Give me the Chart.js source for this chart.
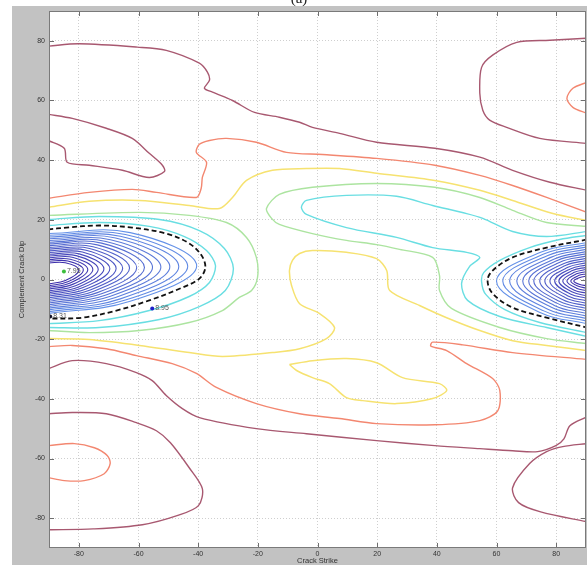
<!DOCTYPE html>
<html><head><meta charset="utf-8">
<script src="https://cdn.jsdelivr.net/npm/chart.js@4.4.1/dist/chart.umd.min.js"></script>
<style>html,body{margin:0;padding:0;background:#fff}canvas{display:block}</style>
</head><body>
<canvas id="c" width="587" height="565"></canvas>
<script>
// ---------- tick labels / titles ----------
const xTicks = [-80,-60,-40,-20,0,20,40,60,80];
const yTicks = [-80,-60,-40,-20,0,20,40,60,80];
const xTitle = 'Crack Strike';
const yTitle = 'Complement Crack Dip';
const chartTitle = '(a)';

// ---------- contour lines (strike, dip) ----------
// outermost level (maroon)
const maroon1 = [[-90.3,78.2],[-80,79],[-60.4,77.9],[-50.7,76.8],[-39.6,72.5],[-36.9,69.5],[-36.2,66.8],[-37.9,64.1],[-35.2,62.8],[-28.5,60],[-21.1,56],[-12.8,54.4],[-6,52.7],[-1.7,51],[7.4,49],[19.8,46],[39.3,44],[54.4,41],[65.4,36.6],[77.9,32.6],[90.3,29.9]];
const maroon2 = [[90.3,80.9],[77.9,80.2],[66.8,79.5],[58.7,75.2],[55,71.1],[54.4,62.4],[55.4,56.7],[57.7,53.4],[63.4,51],[74.5,47.3],[90.3,45.6]];
const maroon3 = [[-90.3,55.4],[-82.2,54],[-70.8,50.7],[-62.1,47.3],[-56.4,42.3],[-52,38.3],[-51.3,36.2],[-56.4,34.2],[-65.4,36.6],[-76.5,38.3],[-83.9,39.3],[-84.9,44],[-90.3,46.6]];
const maroon4 = [[-90.3,-29.9],[-82.2,-27.2],[-70.8,-28.2],[-60.7,-31.2],[-55.4,-33.9],[-50.7,-38.9],[-45.3,-43.3],[-39.6,-46.3],[-20.5,-50],[-3.7,-51.7],[19.8,-54],[39.3,-55.7],[54.4,-56.7],[65.4,-57.4],[73.8,-57.7],[79.9,-55.7],[82.6,-53.4],[84.6,-49],[90.3,-46]];
const maroon5 = [[-90.3,-45],[-82.2,-44.6],[-70.8,-45],[-60.7,-48],[-54,-50.7],[-49.3,-54.7],[-43,-63.1],[-38.6,-70.1],[-39.9,-75.8],[-46.3,-78.9],[-58.7,-82.2],[-75.2,-83.6],[-90.3,-83.9]];
const maroon6 = [[90.3,-55],[82.2,-56],[76.8,-57.7],[71.1,-61.7],[65.4,-69.8],[67.4,-74.8],[74.8,-77.9],[90.3,-81.2]];
// orange level
const orange1 = [[-90.3,27.2],[-76.5,29.2],[-62.1,30.2],[-54,29.2],[-40.6,27.5],[-39,30.5],[-38.6,34.2],[-37.2,39.3],[-40.6,42.6],[-39.6,45.3],[-36.2,46.6],[-30.5,47.3],[-20.5,46],[-10.4,42.6],[1.7,41.9],[19.8,40.6],[39.3,38.3],[54.4,34.9],[65.4,31.5],[76.8,27.5],[90.3,22.5]];
const orange2 = [[90.3,66.1],[85.6,64.1],[83.6,60.7],[85.6,57.7],[90.3,55.7]];
const orange3 = [[-90.3,-22.5],[-82.2,-22.1],[-70.8,-23.2],[-60.7,-25.5],[-48.7,-28.2],[-40.6,-31.5],[-33.9,-36.2],[-20.5,-41.6],[-6,-45],[7.4,-46.6],[19.8,-48.3],[39.3,-48.7],[54.4,-47.3],[60.4,-44],[61.1,-37.2],[58.7,-33.2],[50,-28.2],[43.3,-23.8],[38,-22.3],[38.6,-21],[48.7,-21.9],[65.4,-24.5],[90.3,-26.8]];
const orange4 = [[-90.3,-55.7],[-81.5,-55],[-74.8,-56.4],[-70.5,-59],[-69.5,-61.7],[-71.5,-65.1],[-78.2,-67.4],[-84.9,-67.4],[-90.3,-66.4]];
// yellow level
const yellow1 = [[-90.3,24.2],[-76.5,26.2],[-59.7,26.5],[-43,24.8],[-32.9,23.8],[-28.5,27.5],[-23.8,33.2],[-15.1,36.6],[-3.7,37.2],[7.4,37.2],[19.8,35.6],[39.3,33.2],[54.4,29.9],[65.4,26.5],[78.9,22.1],[90.3,19.8]];
const yellow2 = [[-90.3,-19.8],[-76.5,-20.1],[-59.7,-22.1],[-43,-24.5],[-31.9,-25.8],[-15.1,-24.5],[-6,-23.2],[3,-19.8],[5.7,-16.1],[0.7,-11.4],[-6,-8.1],[-8.7,-2],[-9.4,3],[-8.4,6.4],[-6,8.7],[-1.7,9.7],[9.7,9.1],[19.8,7],[23.2,3],[24.2,-3.7],[34.2,-8.7],[43.3,-12.8],[54.4,-17.1],[65.4,-20.5],[76.8,-22.1],[90.3,-23.8]];
const yellow3 = [[-9.4,-28.5],[-1.7,-27.2],[9.7,-26.5],[19.8,-27.9],[28.5,-32.9],[40.9,-34.9],[43.3,-37.2],[38.6,-39.9],[26.5,-41.6],[15.1,-40.6],[9.7,-39.6],[4,-34.9],[-1.7,-32.9],[-7,-30.5],[-9.4,-28.5]];
// green level
const green1 = [[-90.3,21.5],[-59.7,22.5],[-43,21.5],[-30.5,19.1],[-23.8,14.1],[-20.5,7.4],[-20.1,0.7],[-22.1,-3.7],[-26.2,-6],[-31.9,-10.4],[-43,-14.4],[-59.7,-17.1],[-76.5,-17.8],[-90.3,-17.1]];
const green2 = [[90.3,17.8],[76.8,19.1],[65.4,23.2],[54.4,27.5],[39.3,30.9],[19.8,32.2],[-1.7,30.9],[-12.8,28.5],[-17.1,23.8],[-15.4,20.5],[-12.8,18.5],[-1.7,15.4],[9.7,13.1],[19.8,11.7],[27.5,10.1],[38.6,7.4],[40.9,1.3],[40.9,-3.7],[44.9,-9.7],[61.1,-16.1],[76.8,-19.8],[90.3,-21.5]];
// cyan level(s)
const cyanLeftOuter = [[-90.3,20.1],[-73.2,21.1],[-53,20.1],[-39.6,16.4],[-31.2,10.4],[-28.2,3.7],[-30.9,-3.7],[-39.6,-9.1],[-53,-13.4],[-73.2,-16.1],[-90.3,-16.1]];
const cyanLeftInner = [[-90.3,18.1],[-73.2,19.1],[-56.4,17.8],[-44.6,14.4],[-37.2,9.7],[-34.2,4.7],[-36.2,-1],[-43,-5.7],[-56.4,-10.4],[-73.2,-13.8],[-90.3,-14.8]];
const cyanMiddle = [[90.3,16.1],[76.8,14.4],[65.4,16.1],[55.4,20.5],[50,22.1],[38.6,24.8],[26.5,27.9],[9.7,28.2],[-3.7,26.5],[-5.4,24.2],[-3.7,21.8],[9.7,17.4],[26.5,14.1],[38.6,10.7],[50,9.1],[54.4,7.4],[51,4.4],[48.3,-1.3],[50.3,-7],[61.1,-12.4],[76.8,-16.1],[90.3,-19.1]];
const cyanRightInner = [[90.3,14.8],[81.2,13.4],[71.1,10.7],[61.1,6.4],[55.7,2.3],[55,-0.7],[56.4,-5],[62.8,-10.1],[74.5,-14.4],[90.3,-17.8]];
// highlighted (dashed black) level
const dashedLeft = [[-90.3,16.8],[-84.2,17.4],[-73.2,18.1],[-62.1,17.4],[-50.7,15.4],[-43,12.1],[-38.9,8.1],[-37.6,4],[-39.6,0.3],[-45.3,-2.7],[-56.4,-7],[-67.4,-10.4],[-78.9,-12.8],[-90.3,-13.1]];
const dashedRight = [[90.3,13.4],[76.8,10.7],[65.4,7.4],[58.7,3],[57,-0.3],[58.7,-4.7],[65.4,-9.4],[76.8,-12.8],[90.3,-16.1]];
// blue levels, outer to inner
const blueLeft = [
 [[-90.3,15.4],[-62.8,15.7],[-40.5,4.5],[-62.8,-7.3],[-90.3,-11.4]],
 [[-90.3,14.82],[-64.4,15.1],[-43.5,4.42],[-64.4,-6.9],[-90.3,-10.82]],
 [[-90.3,14.24],[-66.1,14.5],[-46.5,4.34],[-66.1,-6.5],[-90.3,-10.24]],
 [[-90.3,13.66],[-67.7,13.9],[-49.5,4.26],[-67.7,-6.0],[-90.3,-9.66]],
 [[-90.3,13.08],[-69.4,13.3],[-52.5,4.18],[-69.4,-5.6],[-90.3,-9.08]],
 [[-90.3,12.5],[-70.9,12.75],[-55.3,4.1],[-70.9,-5.2],[-90.3,-8.5]],
 [[-90.3,11.92],[-72.4,12.2],[-58,4.02],[-72.4,-4.8],[-90.3,-7.92]],
 [[-90.3,11.34],[-73.8,11.6],[-60.6,3.94],[-73.8,-4.4],[-90.3,-7.34]],
 [[-90.3,10.76],[-75.2,10.97],[-63,3.86],[-75.2,-4.0],[-90.3,-6.76]],
 [[-90.3,10.18],[-76.4,10.4],[-65.3,3.78],[-76.4,-3.6],[-90.3,-6.18]],
 [[-90.3,9.6],[-77.6,9.8],[-67.5,3.7],[-77.6,-3.2],[-90.3,-5.6]],
 [[-90.3,9.02],[-78.8,9.2],[-69.6,3.62],[-78.8,-2.8],[-90.3,-5.02]],
 [[-90.3,8.44],[-79.9,8.6],[-71.6,3.54],[-79.9,-2.4],[-90.3,-4.44]],
 [[-90.3,7.86],[-80.9,8.0],[-73.5,3.46],[-80.9,-2.0],[-90.3,-3.86]],
 [[-90.3,7.28],[-81.9,7.4],[-75.3,3.38],[-81.9,-1.55],[-90.3,-3.28]],
 [[-90.3,6.7],[-82.9,6.8],[-77,3.3],[-82.9,-1.15],[-90.3,-2.7]],
 [[-90.3,6.12],[-83.7,6.2],[-78.5,3.22],[-83.7,-0.75],[-90.3,-2.12]],
 [[-90.3,5.54],[-84.5,5.6],[-80,3.14],[-84.5,-0.3],[-90.3,-1.54]]
];
const blueRight = [
 [[90.3,12.4],[75,9.2],[60,-0.5],[75,-11.2],[90.3,-14.8]],
 [[90.3,11.65],[76.05,8.6],[62.1,-0.5],[76.05,-10.6],[90.3,-13.95]],
 [[90.3,10.9],[77.2,8.05],[64.4,-0.5],[77.2,-9.95],[90.3,-13.1]],
 [[90.3,10.15],[78.4,7.5],[66.8,-0.5],[78.4,-9.3],[90.3,-12.25]],
 [[90.3,9.4],[79.4,6.9],[68.8,-0.5],[79.4,-8.7],[90.3,-11.4]],
 [[90.3,8.65],[80.4,6.4],[70.8,-0.5],[80.4,-8.0],[90.3,-10.55]],
 [[90.3,7.9],[81.25,5.8],[72.5,-0.5],[81.25,-7.4],[90.3,-9.7]],
 [[90.3,7.15],[82.25,5.2],[74.5,-0.5],[82.25,-6.8],[90.3,-8.85]],
 [[90.3,6.4],[83.1,4.7],[76.2,-0.5],[83.1,-6.1],[90.3,-8.0]],
 [[90.3,5.65],[83.95,4.1],[77.9,-0.5],[83.95,-5.5],[90.3,-7.15]],
 [[90.3,4.9],[84.75,3.55],[79.5,-0.5],[84.75,-4.85],[90.3,-6.3]],
 [[90.3,4.15],[85.45,3.0],[80.9,-0.5],[85.45,-4.2],[90.3,-5.45]],
 [[90.3,3.4],[86.1,2.4],[82.2,-0.5],[86.1,-3.6],[90.3,-4.6]],
 [[90.3,2.65],[86.8,1.9],[83.6,-0.5],[86.8,-2.9],[90.3,-3.75]],
 [[90.3,1.9],[87.45,1.3],[84.9,-0.5],[87.45,-2.3],[90.3,-2.9]],
 [[90.3,1.15],[87.95,0.7],[85.9,-0.5],[87.95,-1.7],[90.3,-2.05]]
];
// marked points and their labels
const markX = [-85, -55.4, -89.6];
const markY = [2.7, -9.7, -12.4];
const markText = ['7.95', '8.95', '8.31'];

// ---------- styles ----------
const COL = {
  maroon: 'rgb(168,88,112)', orange: 'rgb(243,135,112)', yellow: 'rgb(246,226,112)',
  green: 'rgb(172,228,160)', cyan: 'rgb(105,222,226)'
};
const markColors = ['rgb(60,190,60)', 'rgb(30,30,200)', 'rgb(20,20,40)'];

function pts(a){ return a.map(p => ({x:p[0], y:p[1]})); }
function line(a, color, w, extra){
  return Object.assign({data: pts(a), showLine: true, borderColor: color, borderWidth: w,
    pointRadius: 0, pointHoverRadius: 0, tension: 0.3, fill: false}, extra || {});
}
function blueCol(t){
  const r = Math.round(100 - 40*t), g = Math.round(145 - 100*t), b = Math.round(232 - 62*t);
  return `rgb(${r},${g},${b})`;
}

const datasets = [];
datasets.push({data: markX.map((x,i)=>({x, y: markY[i]})), showLine:false, pointRadius: 2,
  pointBackgroundColor: markColors, pointBorderColor: markColors, pointBorderWidth: 0});
datasets.push(line(dashedLeft, '#111', 1.8, {borderDash:[5,3], tension:0.35}));
datasets.push(line(dashedRight, '#111', 1.8, {borderDash:[5,3], tension:0.35}));
blueLeft.forEach((c,i)=>datasets.push(line(c, blueCol(i/(blueLeft.length-1)), 1.1, {tension:0.4})));
blueRight.forEach((c,i)=>datasets.push(line(c, blueCol(i/(blueRight.length-1)), 1.1, {tension:0.4})));
[cyanLeftOuter, cyanLeftInner, cyanMiddle, cyanRightInner].forEach(c=>datasets.push(line(c, COL.cyan, 1.4)));
[green1, green2].forEach(c=>datasets.push(line(c, COL.green, 1.4)));
[yellow1, yellow2, yellow3].forEach(c=>datasets.push(line(c, COL.yellow, 1.5)));
[orange1, orange2, orange3, orange4].forEach(c=>datasets.push(line(c, COL.orange, 1.4)));
[maroon1, maroon2, maroon3, maroon4, maroon5, maroon6].forEach(c=>datasets.push(line(c, COL.maroon, 1.4)));

const FONT = '"Liberation Sans", Arial, sans-serif';

const framePlugin = {
  id: 'frame',
  beforeDraw(chart){
    const {ctx, chartArea:a, width, height} = chart;
    ctx.save();
    ctx.fillStyle = '#ffffff'; ctx.fillRect(0,0,width,height);
    ctx.fillStyle = '#c2c2c2'; ctx.fillRect(12,6,width-12,height-6);
    ctx.fillStyle = '#ffffff'; ctx.fillRect(a.left,a.top,a.right-a.left,a.bottom-a.top);
    ctx.restore();
  },
  afterDraw(chart){
    const {ctx, chartArea:a} = chart;
    const xs = chart.scales.x, ys = chart.scales.y;
    ctx.save();
    ctx.strokeStyle = '#6e6e6e'; ctx.lineWidth = 1;
    ctx.beginPath();
    xTicks.forEach(v=>{ const p = Math.round(xs.getPixelForValue(v))+0.5;
      ctx.moveTo(p,a.bottom); ctx.lineTo(p,a.bottom-5); ctx.moveTo(p,a.top); ctx.lineTo(p,a.top+5); });
    yTicks.forEach(v=>{ const p = Math.round(ys.getPixelForValue(v))+0.5;
      ctx.moveTo(a.left,p); ctx.lineTo(a.left+5,p); ctx.moveTo(a.right,p); ctx.lineTo(a.right-5,p); });
    ctx.stroke();
    ctx.strokeStyle = '#7a7a7a';
    ctx.strokeRect(a.left+0.5, a.top+0.5, a.right-a.left-1, a.bottom-a.top-1);
    // point labels
    ctx.fillStyle = '#555'; ctx.font = '7px ' + FONT; ctx.textBaseline = 'middle'; ctx.textAlign = 'left';
    markText.forEach((t,i)=>{
      ctx.fillText(t, xs.getPixelForValue(markX[i]) + 3, ys.getPixelForValue(markY[i]));
    });
    // title (mostly cut off at top)
    ctx.fillStyle = '#222'; ctx.font = '15px "Liberation Serif", serif'; ctx.textAlign = 'center';
    ctx.textBaseline = 'alphabetic';
    ctx.fillText(chartTitle, 299, 3);
    ctx.restore();
  }
};

new Chart(document.getElementById('c'), {
  type: 'scatter',
  data: {datasets},
  options: {
    responsive: false, animation: false, events: [],
    layout: {padding: {left: 12, top: 11, right: 1, bottom: 0}, autoPadding: false},
    plugins: {legend: {display: false}, tooltip: {enabled: false}, title: {display: false}},
    scales: {
      x: {
        type: 'linear', min: -90, max: 90,
        afterBuildTicks: s => { s.ticks = xTicks.map(v=>({value:v})); },
        afterFit: s => { s.height = 17; s.paddingLeft = 0; s.paddingRight = 0; },
        grid: {color: '#cfcfcf', lineWidth: 1, drawTicks: false},
        border: {display: false, dash: [1,2]},
        ticks: {padding: 2, color: '#333', font: {family: FONT, size: 7}, maxRotation: 0, autoSkip: false},
        title: {display: true, text: xTitle, color: '#333', font: {family: FONT, size: 7.5}, padding: {top: 0, bottom: 0}}
      },
      y: {
        type: 'linear', min: -90, max: 90,
        afterBuildTicks: s => { s.ticks = yTicks.map(v=>({value:v})); },
        afterFit: s => { s.width = 37; s.paddingTop = 0; s.paddingBottom = 0; },
        grid: {color: '#cfcfcf', lineWidth: 1, drawTicks: false},
        border: {display: false, dash: [1,2]},
        ticks: {padding: 4, color: '#333', font: {family: FONT, size: 7}, autoSkip: false},
        title: {display: true, text: yTitle, color: '#333', font: {family: FONT, size: 7.5}, padding: {top: 5, bottom: 0}}
      }
    }
  },
  plugins: [framePlugin]
});
</script>
</body></html>
